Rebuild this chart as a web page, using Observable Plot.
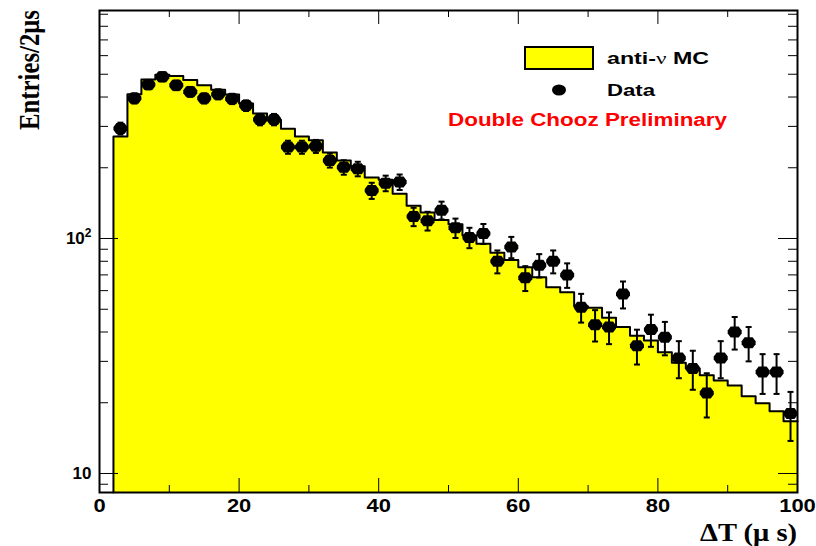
<!DOCTYPE html>
<html>
<head>
<meta charset="utf-8">
<script src="https://cdn.jsdelivr.net/npm/d3@7"></script>
<script src="https://cdn.jsdelivr.net/npm/@observablehq/plot@0.6"></script>
<style>
  html, body { margin: 0; padding: 0; background: #fff; }
  #chart { width: 816px; height: 546px; }
</style>
</head>
<body>
<div id="chart"></div>
<script>
// ---- data ----
const binStart = [2,4,6,8,10,12,14,16,18,20,22,24,26,28,30,32,34,36,38,40,42,44,46,48,50,
                  52,54,56,58,60,62,64,66,68,70,72,74,76,78,80,82,84,86,88,90,92,94,96,98];
const mcCounts = [272,411,475,498,491,473,449,430,410,375,340,320,293,272,262,232,215,203,182,178,155,138,129,120,115,
                  103,95,87,81,75.5,68.4,62,59,51.4,50.7,46,42,38.6,36.8,32.8,29.6,28,26.2,24.9,23.7,21.3,19.9,18.4,16.7];
const dataT = [3,5,7,9,11,13,15,17,19,21,23,25,27,29,31,33,35,37,39,41,43,45,47,49,51,
               53,55,57,59,61,63,65,67,69,71,73,75,77,79,81,83,85,87,89,91,93,95,97,99];
const dataCounts = [294,395,452,488,449,421,395,411,393,368,321,321,245,245,247,215,201,198,160,172,174,124,119,132,111,
                    101,105,80,92,68,77,80,70,51,43,42,58,35,41,38,31,28,22,31,40,36,27,27,18];
const xTicksMajor = [0,20,40,60,80,100];
const xTicksMinor = [10,30,50,70,90];
const yTicksMajor = [10,100];
const yTickLabels = ["10","10\u00B2"];
const yTicksMinor = [9,20,30,40,50,60,70,80,90,200,300,400,500,600,700,800,900];
const xDomain = [0,100];
const yDomain = [8.30,933.8];

// ---- layout ----
const W = 816, H = 546;
const mL = 99, mR = 19, mT = 10, mB = 54;
const plotW = W - mL - mR, plotH = H - mT - mB;
const SANS = "'Liberation Sans', Arial, sans-serif";
const SERIF = "'Liberation Serif', 'Times New Roman', serif";

const binWidth = binStart[1] - binStart[0];
const steps = binStart.map((x, i) => ({x, y: mcCounts[i]}));
steps.push({x: binStart[binStart.length - 1] + binWidth, y: mcCounts[mcCounts.length - 1]});
const outline = [{x: binStart[0], y: yDomain[0]}, ...steps];
const points = dataT.map((t, i) => ({t, v: dataCounts[i], e: Math.sqrt(dataCounts[i])}));

const marker = {draw(ctx) {
  ctx.moveTo(7, -1.5); ctx.lineTo(4, -5.5); ctx.lineTo(-4, -5.5); ctx.lineTo(-7, -1.5);
  ctx.lineTo(-7, 1.5); ctx.lineTo(-4, 5.5); ctx.lineTo(4, 5.5); ctx.lineTo(7, 1.5); ctx.closePath();
}};
const cap = {draw(ctx) { ctx.moveTo(-3, 0); ctx.lineTo(3, 0); }};

const chart = Plot.plot({
  width: W, height: H,
  marginLeft: mL, marginRight: mR, marginTop: mT, marginBottom: mB,
  style: {fontFamily: SANS, fontWeight: "bold", fontSize: "18px", background: "#fff", color: "#000"},
  x: {domain: xDomain, axis: null},
  y: {type: "log", domain: yDomain, axis: null},
  marks: [
    Plot.areaY(steps, {x: "x", y1: yDomain[0], y2: "y", curve: "step-after", fill: "#ffff00"}),
    Plot.line(outline, {x: "x", y: "y", curve: "step-after", stroke: "#000", strokeWidth: 2}),
    Plot.ruleX(points, {x: "t", y1: d => d.v - d.e, y2: d => d.v + d.e, stroke: "#000", strokeWidth: 2}),
    Plot.dot(points, {x: "t", y: d => d.v - d.e, symbol: cap, stroke: "#000", strokeWidth: 2, fill: "none"}),
    Plot.dot(points, {x: "t", y: d => d.v + d.e, symbol: cap, stroke: "#000", strokeWidth: 2, fill: "none"}),
    Plot.dot(points, {x: "t", y: "v", symbol: marker, fill: "#000", stroke: "none"}),
    // inward ticks, all four sides
    Plot.tickY(yTicksMinor, {y: d => d, insetRight: plotW - 9, stroke: "#000"}),
    Plot.tickY(yTicksMajor, {y: d => d, insetRight: plotW - 19, stroke: "#000"}),
    Plot.tickY(yTicksMinor, {y: d => d, insetLeft: plotW - 9, stroke: "#000"}),
    Plot.tickY(yTicksMajor, {y: d => d, insetLeft: plotW - 19, stroke: "#000"}),
    Plot.tickX(xTicksMajor, {x: d => d, insetTop: plotH - 14, stroke: "#000"}),
    Plot.tickX(xTicksMinor, {x: d => d, insetTop: plotH - 7, stroke: "#000"}),
    Plot.tickX(xTicksMajor, {x: d => d, insetBottom: plotH - 14, stroke: "#000"}),
    Plot.tickX(xTicksMinor, {x: d => d, insetBottom: plotH - 7, stroke: "#000"}),
    Plot.axisX(xTicksMajor, {anchor: "bottom", tickSize: 0, tickPadding: 7, label: null, fontSize: 18, fontWeight: "bold"}),
    Plot.axisY(yTicksMajor, {anchor: "left", tickSize: 0, tickPadding: 8, label: null, fontSize: 17, fontWeight: "bold",
      tickFormat: d => yTickLabels[yTicksMajor.indexOf(d)]}),
    Plot.frame({stroke: "#000", strokeWidth: 2})
  ]
});

document.getElementById("chart").appendChild(chart);

const svg = d3.select(chart);

// x tick labels: widen a little (reference glyphs are horizontally stretched)
svg.selectAll("g[aria-label='x-axis tick label'] text").each(function() {
  const len = this.getComputedTextLength();
  if (len > 0) {
    this.setAttribute("textLength", (len * 1.22).toFixed(1));
    this.setAttribute("lengthAdjust", "spacingAndGlyphs");
  }
});
// y tick label 10^2 with a real superscript
svg.selectAll("g[aria-label='y-axis tick label'] text").each(function() {
  if (this.textContent === "10\u00B2") {
    this.textContent = "10";
    d3.select(this).append("tspan").attr("font-size", 12).attr("dy", "-0.55em").text("2");
  }
});

// ---- titles and legend ----
svg.append("text")
  .attr("transform", "translate(39,10) rotate(-90) scale(1,1.3)")
  .attr("text-anchor", "end")
  .attr("font-family", SERIF)
  .attr("font-weight", "bold").attr("font-size", 23)
  .attr("textLength", 120).attr("lengthAdjust", "spacingAndGlyphs")
  .attr("fill", "#000")
  .text("Entries/2\u03BCs");
svg.append("text")
  .attr("x", 797).attr("y", 541)
  .attr("text-anchor", "end")
  .attr("font-family", SERIF)
  .attr("font-weight", "bold").attr("font-size", 25)
  .attr("textLength", 97).attr("lengthAdjust", "spacingAndGlyphs")
  .attr("fill", "#000")
  .text("\u0394T (\u03BC s)");

const lg = svg.append("g").attr("text-anchor", "start");
lg.append("rect").attr("x", 525).attr("y", 47).attr("width", 68).attr("height", 22)
  .attr("fill", "#ffff00").attr("stroke", "#000").attr("stroke-width", 2);
const t1 = lg.append("text").attr("x", 607).attr("y", 64).attr("text-anchor", "start")
  .attr("font-family", SANS).attr("font-weight", "bold").attr("font-size", 17)
  .attr("textLength", 102).attr("lengthAdjust", "spacingAndGlyphs").attr("fill", "#000");
t1.append("tspan").text("anti-");
t1.append("tspan").attr("font-family", SERIF).attr("font-weight", "normal").text("\u03BD");
t1.append("tspan").text(" MC");
lg.append("ellipse").attr("cx", 559).attr("cy", 90).attr("rx", 7).attr("ry", 5.5).attr("fill", "#000");
lg.append("text").attr("x", 607).attr("y", 96).attr("text-anchor", "start")
  .attr("font-family", SANS).attr("font-weight", "bold").attr("font-size", 17)
  .attr("textLength", 48).attr("lengthAdjust", "spacingAndGlyphs").attr("fill", "#000")
  .text("Data");
lg.append("text").attr("x", 448).attr("y", 126).attr("text-anchor", "start")
  .attr("font-family", SANS).attr("font-weight", "bold").attr("font-size", 18)
  .attr("textLength", 279).attr("lengthAdjust", "spacingAndGlyphs").attr("fill", "#ff0000")
  .text("Double Chooz Preliminary");
</script>
</body>
</html>
